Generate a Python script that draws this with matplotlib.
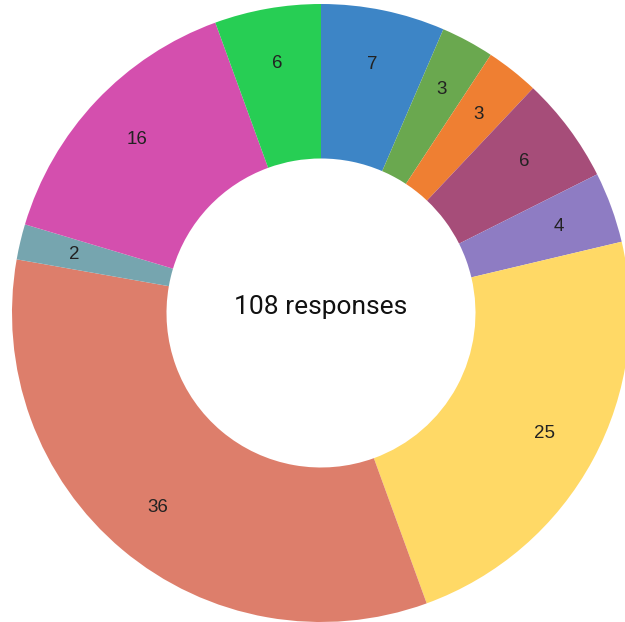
import matplotlib
matplotlib.use("Agg")
import matplotlib.pyplot as plt

# slice counts, clockwise from 12 o'clock
counts = [7, 3, 3, 6, 4, 25, 36, 2, 16, 6]
colors = ['#3d85c6', '#6aa84f', '#ef7f32', '#a64d79', '#8e7cc3',
          '#ffd966', '#dd7e6b', '#76a5af', '#d44fae', '#27ce54']
center_text = '108 responses'

W, H = 625, 622
cx, cy, R = 321, 313, 309

fig = plt.figure(figsize=(W / 100, H / 100), dpi=100)
ax = fig.add_axes([0, 0, 1, 1])

wedges, texts = ax.pie(counts, colors=colors, startangle=90, counterclock=False,
                       radius=1.0, labels=[str(c) for c in counts],
                       labeldistance=0.82,
                       wedgeprops=dict(width=0.5, edgecolor='none'),
                       textprops=dict(fontsize=13.5, color='#222222',
                                      family='Liberation Sans',
                                      ha='center', va='center'))

ax.text(0, 0.02, center_text, ha='center', va='center', fontsize=19,
        family='Roboto', color='#111111')

ax.set_aspect('equal')
ax.set_xlim(-cx / R, (W - cx) / R)
ax.set_ylim((cy - H) / R, cy / R)
ax.axis('off')

fig.savefig('out.png', dpi=100)
